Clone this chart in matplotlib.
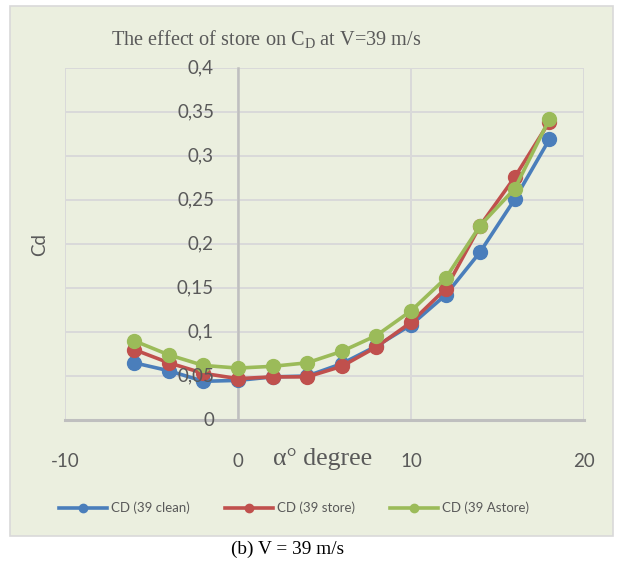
import numpy as np
import matplotlib
matplotlib.use("Agg")
import matplotlib.pyplot as plt
from matplotlib.patches import Rectangle
from matplotlib.transforms import offset_copy

plt.rcParams["axes.unicode_minus"] = False

# data
alpha = [-6, -4, -2, 0, 2, 4, 6, 8, 10, 12, 14, 16, 18]
cd_clean = [0.065, 0.056, 0.044, 0.045, 0.049, 0.050, 0.064, 0.084, 0.108, 0.142, 0.191, 0.251, 0.319]
cd_store = [0.080, 0.065, 0.053, 0.047, 0.049, 0.049, 0.061, 0.083, 0.111, 0.149, 0.221, 0.276, 0.339]
cd_astore = [0.090, 0.074, 0.062, 0.059, 0.061, 0.065, 0.078, 0.096, 0.124, 0.161, 0.221, 0.263, 0.342]
series_names = ["CD (39 clean)", "CD (39 store)", "CD (39 Astore)"]
xticks = [-10, 0, 10, 20]
yticks = [0, 0.05, 0.1, 0.15, 0.2, 0.25, 0.3, 0.35, 0.4]

W, H = 617, 564
fig = plt.figure(figsize=(W / 100, H / 100), dpi=100)

# chart area background
bg = Rectangle((10 / W, 1 - 536 / H), 603 / W, 530 / H, transform=fig.transFigure,
               facecolor="#EBEFDF", edgecolor="#D9D9D9", lw=1.2, zorder=-5)
fig.patches.append(bg)

ax = fig.add_axes([65 / W, 1 - 420 / H, 519 / W, 352 / H])
ax.set_facecolor("none")

colors = ["#4A7EBB", "#C0504D", "#9BBB59"]
for ys, c, name in zip([cd_clean, cd_store, cd_astore], colors, series_names):
    ax.plot(alpha, ys, color=c, lw=2.6, marker="o", markersize=10, label=name, zorder=3)

ax.set_xlim(-10, 20)
ax.set_ylim(0, 0.4)
ax.set_xticks(xticks)
ax.set_yticks(yticks)
ax.set_yticklabels([])

for s in ["top", "right"]:
    ax.spines[s].set_visible(False)
ax.spines["left"].set_position(("data", 0))
ax.spines["left"].set_color("#BFBFBF")
ax.spines["left"].set_linewidth(1.8)
ax.spines["bottom"].set_color("#BFBFBF")
ax.spines["bottom"].set_linewidth(2.2)
ax.grid(True, color="#D9D9D9", lw=1.4, zorder=1)
ax.set_axisbelow(True)

sans = ["Lato", "DejaVu Sans"]
ax.tick_params(axis="both", length=0)
ax.tick_params(axis="x", pad=24)
for lab in ax.get_xticklabels():
    lab.set_fontfamily(sans)
    lab.set_fontsize(13.5)
    lab.set_color("#595959")

# y tick labels drawn on top of the series, left of the axis at x=0
ylab_tr = offset_copy(ax.transData, fig=fig, x=-24, y=0, units="dots")
for v in yticks:
    ax.text(0, v, f"{v:g}".replace(".", ","), transform=ylab_tr, ha="right", va="center",
            family=sans, size=13.5, color="#595959", zorder=5, clip_on=False)

fig.text(40 / W, 1 - 245 / H, "Cd", rotation=90, ha="center", va="center",
         family=sans, size=13.5, color="#595959")
fig.text(323 / W, 1 - 459 / H, "α° degree", ha="center", va="center",
         family="Liberation Serif", size=18.5, color="#595959")
fig.text(266 / W, 1 - 40 / H, "The effect of store on C$_\\mathregular{D}$ at V=39 m/s",
         ha="center", va="center", family="Liberation Serif", size=14.6, color="#595959")

leg = fig.legend(loc="center", bbox_to_anchor=(294 / W, 1 - 508 / H), ncol=3, frameon=False,
                 prop=dict(family=sans, size=9.5), markerscale=0.6,
                 handlelength=3.6, columnspacing=2.7, handletextpad=0.3)
for t in leg.get_texts():
    t.set_color("#595959")

fig.text(288 / W, 1 - 549 / H, "(b) V = 39 m/s", ha="center", va="center",
         family="Liberation Serif", size=13.9, color="black")

fig.savefig("out.png", dpi=100)
